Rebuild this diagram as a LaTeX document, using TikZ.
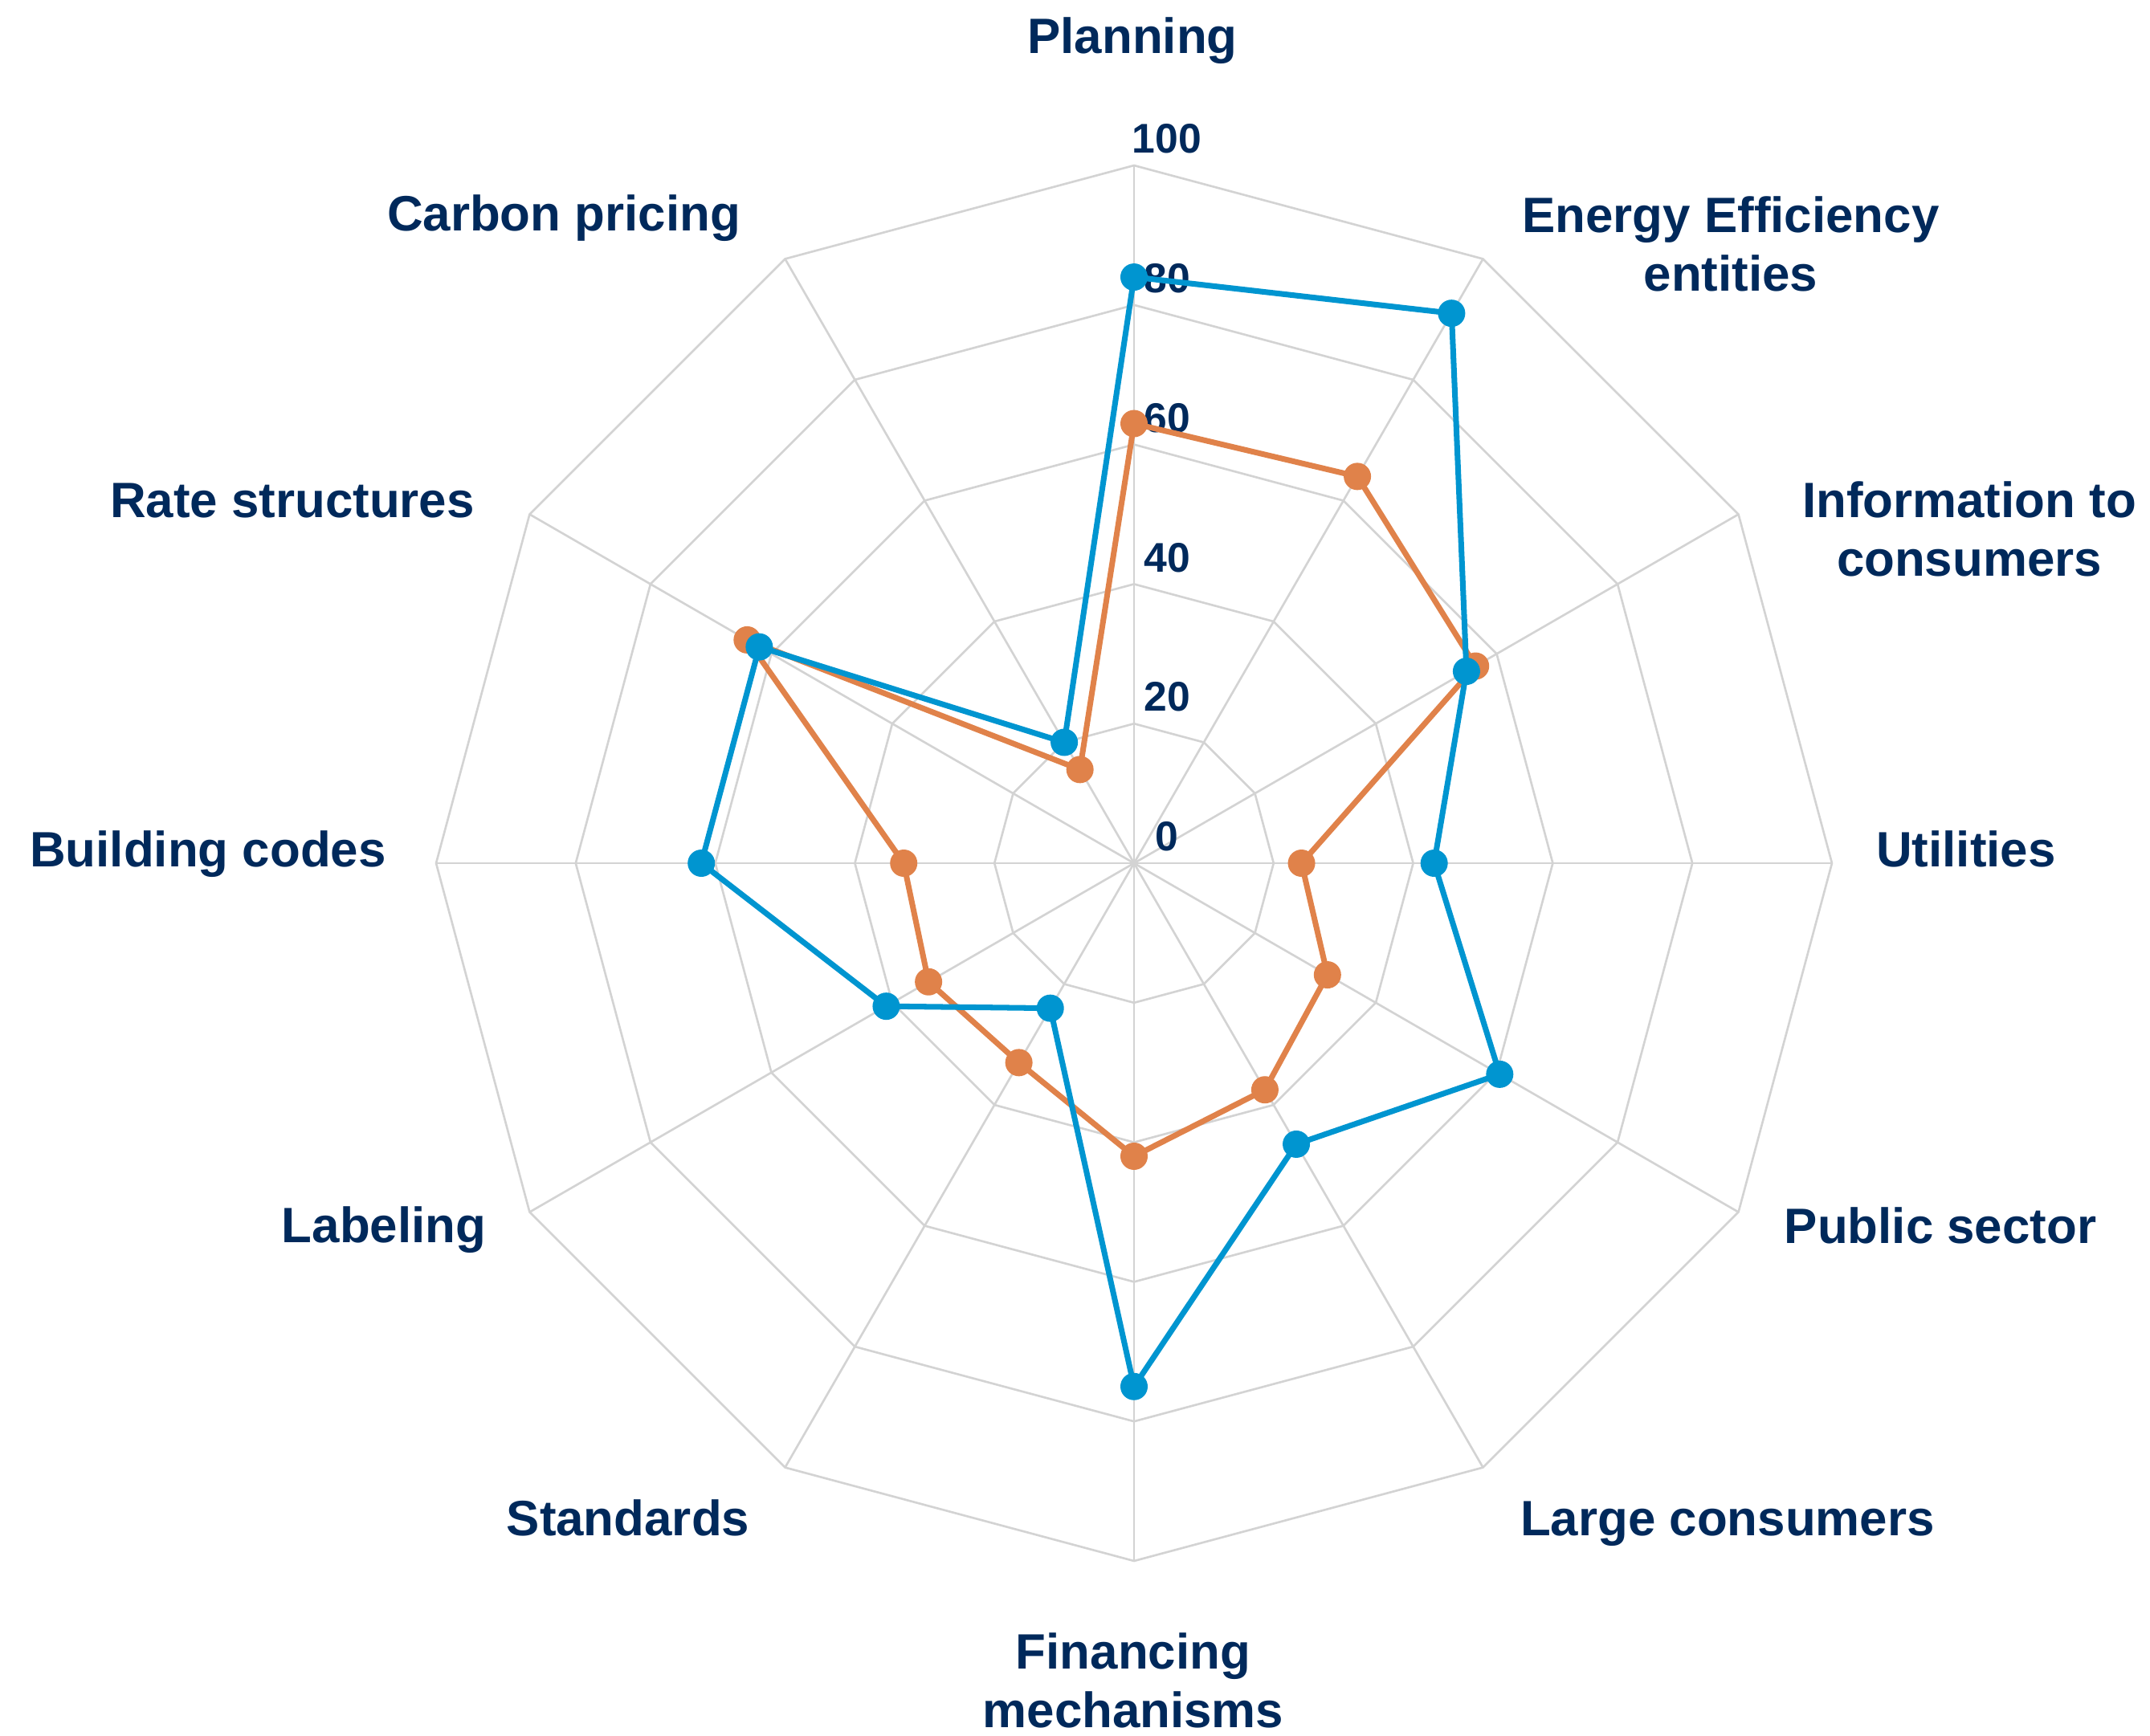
\documentclass[tikz,border=0pt]{standalone}
\usepackage{fontspec}
\setmainfont{Liberation Sans}

\definecolor{azulescuro}{HTML}{00295B}
\definecolor{azulserie}{HTML}{0095D0}
\definecolor{laranjaserie}{HTML}{E0824A}
\definecolor{cinzagrade}{HTML}{D3D3D3}

\tikzstyle{eixo} = [font=\fontsize{17.6}{20.8}\selectfont\bfseries, text=azulescuro, align=center, inner sep=0pt]
\tikzstyle{escala} = [font=\fontsize{14.7}{17}\selectfont\bfseries, text=azulescuro, inner sep=0pt]
\tikzstyle{grade} = [draw=cinzagrade, line width=0.75pt]
\tikzstyle{linhaazul} = [draw=azulserie, line width=2pt, line join=round]
\tikzstyle{linhalaranja} = [draw=laranjaserie, line width=2pt, line join=round]

\def\esc{0.0869}

\begin{document}
\begin{tikzpicture}

    \useasboundingbox (-14.12,-10.86) rectangle (12.65,10.75);

    % grid rings and spokes
    \foreach \r in {20,40,60,80,100}
        \draw [grade] (90:\r*\esc) \foreach \k in {1,...,11} {-- (90-30*\k:\r*\esc)} -- cycle;
    \foreach \k in {0,...,11}
        \draw [grade] (0,0) -- (90-30*\k:100*\esc);

    % scale values
    \foreach \r in {0,20,40,60,80,100}
        \node at (0.41,\r*\esc+0.33) [escala] (esc\r) {\r};

    % second series (orange)
    \draw [linhalaranja] (90:63*\esc) \foreach \v [count=\i] in {64,56.5,24,32,37.5,42,33,34,33,64,15.5} {-- (90-30*\i:\v*\esc)} -- cycle;
    \foreach \v [count=\i from 0] in {63,64,56.5,24,32,37.5,42,33,34,33,64,15.5}
        \fill [laranjaserie] (90-30*\i:\v*\esc) circle (0.17);

    % first series (blue)
    \draw [linhaazul] (90:84*\esc) \foreach \v [count=\i] in {91,55,43,60.5,46.5,75,24,41,62,62,20} {-- (90-30*\i:\v*\esc)} -- cycle;
    \foreach \v [count=\i from 0] in {84,91,55,43,60.5,46.5,75,24,41,62,62,20}
        \fill [azulserie] (90-30*\i:\v*\esc) circle (0.17);

    % axis labels
    \node at (-0.02,10.08) [eixo, anchor=base] (planning) {Planning};
    \node at (7.43,7.71) [eixo] (eeentities) {Energy Efficiency\\entities};
    \node at (10.40,4.16) [eixo] (information) {Information to\\consumers};
    \node at (10.36,-0.04) [eixo, anchor=base] (utilities) {Utilities};
    \node at (10.04,-4.73) [eixo, anchor=base] (public) {Public sector};
    \node at (7.39,-8.37) [eixo, anchor=base] (large) {Large consumers};
    \node at (-0.01,-10.18) [eixo] (financing) {Financing\\mechanisms};
    \node at (-6.30,-8.37) [eixo, anchor=base] (standards) {Standards};
    \node at (-9.34,-4.72) [eixo, anchor=base] (labeling) {Labeling};
    \node at (-11.53,-0.04) [eixo, anchor=base] (building) {Building codes};
    \node at (-10.48,4.31) [eixo, anchor=base] (rate) {Rate structures};
    \node at (-7.10,7.88) [eixo, anchor=base] (carbon) {Carbon pricing};

\end{tikzpicture}
\end{document}
